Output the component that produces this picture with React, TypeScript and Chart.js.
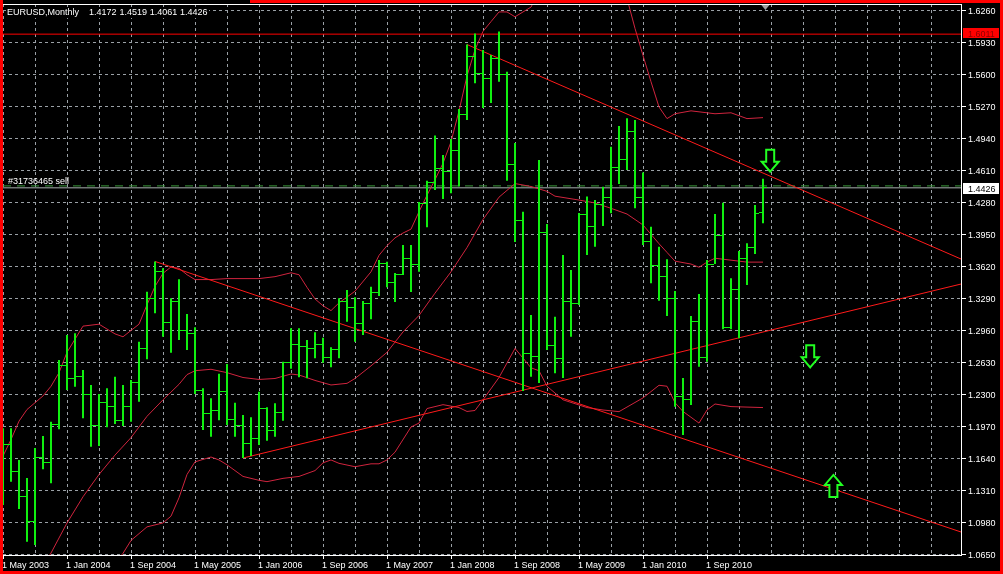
import React, { useEffect, useRef } from "react";
import { Chart, registerables } from "chart.js";

Chart.register(...registerables);

// ---------- DATA ----------
// Monthly bars, index 0 = May 2003 ... index 95 = Apr 2011
const OPEN = [
  1.1180, 1.1780, 1.1500, 1.1240, 1.0985, 1.1650, 1.1590, 1.1990,
  1.2590, 1.2460, 1.2480, 1.2300, 1.1980, 1.2210, 1.2170, 1.2030, 1.2170, 1.2420, 1.2770, 1.3280,
  1.3560, 1.3040, 1.3250, 1.2960, 1.2920, 1.2340, 1.2100, 1.2130, 1.2330, 1.2040, 1.1980, 1.1790,
  1.1840, 1.2150, 1.1920, 1.2110, 1.2630, 1.2810, 1.2790, 1.2770, 1.2810, 1.2680, 1.2760, 1.3250,
  1.3190, 1.3030, 1.3230, 1.3350, 1.3650, 1.3450, 1.3530, 1.3700, 1.3640, 1.4260, 1.4480, 1.4630,
  1.4590, 1.4810, 1.5180, 1.5785, 1.5610, 1.5550, 1.5760, 1.5600, 1.4670, 1.4090, 1.2720, 1.2690,
  1.3970, 1.2800, 1.2670, 1.3250, 1.3230, 1.4150, 1.4030, 1.4250, 1.4330, 1.4640, 1.4720, 1.5010,
  1.4330, 1.3870, 1.3630, 1.3510, 1.3290, 1.2270, 1.2240, 1.3050, 1.2680, 1.3640, 1.3930, 1.2990,
  1.3380, 1.3700, 1.3810, 1.4172,
];
const HIGH = [
  1.1946, 1.1946, 1.1620, 1.1434, 1.1743, 1.1867, 1.2014, 1.2650,
  1.2908, 1.2926, 1.2548, 1.2393, 1.2300, 1.2359, 1.2479, 1.2393, 1.2444, 1.2839, 1.3355, 1.3667,
  1.3596, 1.3287, 1.3483, 1.3125, 1.2988, 1.2359, 1.2256, 1.2510, 1.2609, 1.2210, 1.2083, 1.2059,
  1.2324, 1.2163, 1.2204, 1.2633, 1.2977, 1.2977, 1.2857, 1.2936, 1.2881, 1.2782, 1.3287, 1.3372,
  1.3297, 1.3259, 1.3406, 1.3682, 1.3664, 1.3548, 1.3837, 1.3837, 1.4280, 1.4500, 1.4965, 1.4765,
  1.4930, 1.5240, 1.5904, 1.6018, 1.5848, 1.5796, 1.6038, 1.5624, 1.4889, 1.4180, 1.3115, 1.4713,
  1.4053, 1.3097, 1.3733, 1.3579, 1.4166, 1.4336, 1.4301, 1.4438, 1.4850, 1.5064, 1.5143, 1.5126,
  1.4583, 1.4026, 1.3819, 1.3689, 1.3362, 1.2465, 1.3104, 1.3331, 1.3682, 1.4156, 1.4273, 1.3493,
  1.3775, 1.3854, 1.4249, 1.4519,
];
const LOW = [
  1.1155, 1.1396, 1.1114, 1.0777, 1.0743, 1.1523, 1.1379, 1.1936,
  1.2341, 1.2375, 1.2049, 1.1756, 1.1764, 1.1957, 1.1991, 1.1970, 1.2014, 1.2221, 1.2658, 1.3132,
  1.2891, 1.2726, 1.2857, 1.2754, 1.2300, 1.1930, 1.1860, 1.2030, 1.1980, 1.1860, 1.1640, 1.1660,
  1.1774, 1.1818, 1.1860, 1.2025, 1.2560, 1.2472, 1.2462, 1.2668, 1.2623, 1.2575, 1.2668, 1.3046,
  1.2839, 1.2908, 1.3070, 1.3311, 1.3400, 1.3249, 1.3527, 1.3352, 1.3560, 1.4020, 1.4404, 1.4310,
  1.4370, 1.4440, 1.5125, 1.5504, 1.5250, 1.5300, 1.5520, 1.4500, 1.3867, 1.2330, 1.2478, 1.2413,
  1.2754, 1.2513, 1.2465, 1.2891, 1.3218, 1.3734, 1.3819, 1.4032, 1.4163, 1.4466, 1.4610, 1.4215,
  1.3837, 1.3442, 1.3262, 1.3104, 1.2169, 1.1877, 1.2187, 1.2582, 1.2633, 1.3640, 1.2967, 1.2967,
  1.2874, 1.3424, 1.3744, 1.4061,
];
const CLOSE = [
  1.1780, 1.1500, 1.1240, 1.0985, 1.1650, 1.1590, 1.1990, 1.2590,
  1.2460, 1.2480, 1.2300, 1.1980, 1.2210, 1.2170, 1.2030, 1.2170, 1.2420, 1.2770, 1.3280, 1.3560,
  1.3040, 1.3250, 1.2960, 1.2920, 1.2340, 1.2100, 1.2130, 1.2330, 1.2040, 1.1980, 1.1790, 1.1840,
  1.2150, 1.1920, 1.2110, 1.2630, 1.2810, 1.2790, 1.2770, 1.2810, 1.2680, 1.2760, 1.3250, 1.3190,
  1.3030, 1.3230, 1.3350, 1.3650, 1.3450, 1.3530, 1.3700, 1.3640, 1.4260, 1.4480, 1.4630, 1.4590,
  1.4810, 1.5180, 1.5785, 1.5610, 1.5550, 1.5760, 1.5600, 1.4670, 1.4090, 1.2720, 1.2690, 1.3970,
  1.2800, 1.2670, 1.3250, 1.3230, 1.4150, 1.4030, 1.4250, 1.4330, 1.4640, 1.4720, 1.5010, 1.4330,
  1.3870, 1.3630, 1.3510, 1.3290, 1.2270, 1.2240, 1.3050, 1.2680, 1.3640, 1.3930, 1.2990, 1.3380,
  1.3700, 1.3810, 1.4160, 1.4426,
];

// Bollinger-style bands (bar index -> price)
const UB_X = [0, 1, 2, 3, 4, 5, 6, 7, 8, 10, 12, 14, 15, 17, 18, 19, 20, 21, 22, 23, 24, 26, 28, 30, 32, 34, 36, 37, 38, 39, 40, 41, 42, 44, 46, 47, 48, 49, 50, 51, 52, 53, 54, 55, 56, 57, 58, 59, 60, 61, 62, 63, 64, 65, 66, 67, 70, 74, 78, 79, 80, 81, 82, 83, 84, 86, 89, 91, 92, 93, 95];
const UB_Y = [1.166, 1.183, 1.202, 1.214, 1.221, 1.228, 1.238, 1.252, 1.273, 1.300, 1.302, 1.292, 1.289, 1.302, 1.322, 1.341, 1.3545, 1.361, 1.3596, 1.353, 1.348, 1.348, 1.349, 1.349, 1.349, 1.351, 1.355, 1.353, 1.340, 1.328, 1.321, 1.316, 1.324, 1.336, 1.356, 1.373, 1.383, 1.391, 1.396, 1.400, 1.418, 1.435, 1.451, 1.468, 1.490, 1.522, 1.558, 1.585, 1.604, 1.614, 1.624, 1.624, 1.619, 1.624, 1.629, 1.645, 1.700, 1.720, 1.638, 1.607, 1.579, 1.552, 1.526, 1.514, 1.519, 1.522, 1.519, 1.520, 1.517, 1.514, 1.515];
const MB_X = [4, 6, 8, 10, 12, 14, 16, 18, 20, 22, 23, 24, 26, 28, 30, 32, 34, 36, 37, 39, 41, 43, 44, 46, 48, 50, 52, 54, 56, 58, 60, 62, 64, 66, 68, 69, 72, 74, 76, 78, 80, 82, 83, 84, 86, 87, 88, 89, 91, 93, 95];
const MB_Y = [1.040, 1.066, 1.097, 1.124, 1.147, 1.167, 1.185, 1.207, 1.224, 1.240, 1.250, 1.254, 1.2555, 1.252, 1.247, 1.245, 1.246, 1.2506, 1.2496, 1.244, 1.2393, 1.241, 1.246, 1.259, 1.273, 1.294, 1.311, 1.334, 1.356, 1.381, 1.410, 1.433, 1.447, 1.444, 1.439, 1.434, 1.430, 1.427, 1.4215, 1.4156, 1.4043, 1.385, 1.376, 1.367, 1.364, 1.3607, 1.366, 1.370, 1.368, 1.366, 1.366];
const LB_X = [13, 15, 16, 18, 20, 21, 22, 23, 24, 26, 27, 28, 30, 32, 33, 35, 37, 39, 40, 41, 42, 44, 46, 47, 48, 49, 51, 52, 53, 55, 57, 58, 59, 60, 62, 64, 65, 66, 67, 68, 70, 73, 75, 77, 80, 82, 83, 84, 85, 87, 88, 89, 91, 95];
const LB_Y = [1.045, 1.0657, 1.079, 1.093, 1.097, 1.104, 1.123, 1.147, 1.160, 1.165, 1.162, 1.157, 1.145, 1.141, 1.1396, 1.143, 1.145, 1.151, 1.159, 1.162, 1.1585, 1.155, 1.158, 1.158, 1.162, 1.170, 1.196, 1.200, 1.215, 1.219, 1.216, 1.212, 1.213, 1.224, 1.247, 1.277, 1.267, 1.257, 1.254, 1.238, 1.224, 1.216, 1.2135, 1.2118, 1.226, 1.239, 1.238, 1.221, 1.212, 1.200, 1.2135, 1.2197, 1.217, 1.216];

// Trend lines: [x1, x2], [y1, y2]
const TL1_X = [19, 119.75];
const TL1_Y = [1.3667, 1.0877];
const TL2_X = [30, 119.75];
const TL2_Y = [1.1640, 1.3434];
const TL3_X = [58, 119.75];
const TL3_Y = [1.5904, 1.3692];

const HLINE_PRICE = 1.6011;
const ORDER_PRICE = 1.4446;
const BID_PRICE = 1.4426;
const ORDER_LABEL = "#31736465 sell";
const HEADER_PARTS = ["EURUSD,Monthly", "1.4172", "1.4519", "1.4061", "1.4426"];
const HEADER_X = [7, 89, 119.5, 149.8, 180.1];

// Arrows: bar index, tip price, direction
const ARROW_X = [95.9, 100.9, 103.8];
const ARROW_Y = [1.4593, 1.2575, 1.1465];
const ARROW_DIR = ["down", "down", "up"];

const Y_TICKS = [1.0650, 1.0980, 1.1310, 1.1640, 1.1970, 1.2300, 1.2630, 1.2960, 1.3290, 1.3620, 1.3950, 1.4280, 1.4610, 1.4940, 1.5270, 1.5600, 1.5930, 1.6260];
const X_LABELS = ["1 May 2003", "1 Jan 2004", "1 Sep 2004", "1 May 2005", "1 Jan 2006", "1 Sep 2006", "1 May 2007", "1 Jan 2008", "1 Sep 2008", "1 May 2009", "1 Jan 2010", "1 Sep 2010"];
const X_LABEL_IDX = [0, 8, 16, 24, 32, 40, 48, 56, 64, 72, 80, 88];

// ---------- VIEW ----------
const X_MIN = 0;
const X_MAX = 119.75;
const Y_MIN = 1.063969;
const Y_MAX = 1.632188;
const GRID_STEP = 4;

const GREEN = "#10f010";
const BB_COLOR = "#d0243e";
const TL_COLOR = "#ff1a1a";
const GRID_COLOR = "#9aa0a6";
const FONT = "9px 'Liberation Sans', Arial, sans-serif";

const toPts = (xs: number[], ys: number[]) => xs.map((x, k) => ({ x, y: ys[k] }));

function drawArrow(ctx: CanvasRenderingContext2D, cx: number, ty: number, dir: string) {
  const s = dir === "down" ? -1 : 1;
  const hb = ty + s * 10;
  const end = ty + s * 22;
  ctx.beginPath();
  ctx.moveTo(cx, ty);
  ctx.lineTo(cx + 8.5, hb);
  ctx.lineTo(cx + 4, hb);
  ctx.lineTo(cx + 4, end);
  ctx.lineTo(cx - 4, end);
  ctx.lineTo(cx - 4, hb);
  ctx.lineTo(cx - 8.5, hb);
  ctx.closePath();
  ctx.fillStyle = "#000";
  ctx.fill();
  ctx.lineWidth = 2;
  ctx.strokeStyle = "#22ff22";
  ctx.stroke();
}

const mt4Plugin = {
  id: "mt4",
  beforeDraw(chart: any) {
    const { ctx, width, height } = chart;
    ctx.save();
    ctx.fillStyle = "#000";
    ctx.fillRect(0, 0, width, height);
    ctx.restore();
  },
  afterDatasetsDraw(chart: any) {
    const { ctx, chartArea: a } = chart;
    const x = chart.scales.x;
    const y = chart.scales.y;
    ctx.save();
    ctx.beginPath();
    ctx.rect(a.left, a.top, a.right - a.left, a.bottom - a.top);
    ctx.clip();
    ctx.fillStyle = GREEN;
    for (let i = 0; i < OPEN.length; i++) {
      const col = Math.round(x.getPixelForValue(i));
      const yo = Math.floor(y.getPixelForValue(OPEN[i]));
      const yc = Math.floor(y.getPixelForValue(CLOSE[i]));
      ctx.fillRect(col - 4, yo, 3, 1);
      ctx.fillRect(col + 1, yc, 3, 1);
    }
    for (let k = 0; k < ARROW_X.length; k++) {
      drawArrow(ctx, x.getPixelForValue(ARROW_X[k]), y.getPixelForValue(ARROW_Y[k]), ARROW_DIR[k]);
    }
    ctx.restore();
  },
  afterDraw(chart: any) {
    const { ctx, chartArea: a, width, height } = chart;
    const x = chart.scales.x;
    const y = chart.scales.y;
    ctx.save();
    ctx.font = FONT;
    ctx.textBaseline = "alphabetic";
    ctx.textAlign = "left";

    ctx.fillStyle = "#ffffff";
    ctx.fillRect(a.left, a.top, a.right - a.left, 1);

    for (const v of Y_TICKS) {
      const py = Math.floor(y.getPixelForValue(v));
      ctx.fillStyle = "#ffffff";
      ctx.fillRect(Math.round(a.right) + 1, py, 4, 1);
      ctx.fillText(v.toFixed(4), a.right + 7, py + 4);
    }
    for (let k = 0; k < X_LABELS.length; k++) {
      const px = x.getPixelForValue(X_LABEL_IDX[k]);
      ctx.fillStyle = "#ffffff";
      ctx.fillRect(Math.round(px), Math.round(a.bottom) + 1, 1, 3);
      ctx.fillText(X_LABELS[k], Math.round(px) - 1, a.bottom + 13);
    }

    const hy = y.getPixelForValue(HLINE_PRICE);
    ctx.fillStyle = "#ff0000";
    ctx.fillRect(a.right + 2, Math.round(hy) - 6, 36, 10);
    ctx.fillStyle = "#8b0000";
    ctx.fillText(HLINE_PRICE.toFixed(4), a.right + 7, Math.round(hy) + 3);

    const by = y.getPixelForValue(BID_PRICE);
    ctx.fillStyle = "#ffffff";
    ctx.fillRect(a.right + 2, Math.round(by) - 5, 36, 11);
    ctx.fillStyle = "#000000";
    ctx.fillText(BID_PRICE.toFixed(4), a.right + 7, Math.round(by) + 4);

    ctx.fillStyle = "#000000";
    ctx.fillRect(6, 7, 203, 11);
    ctx.fillStyle = "#ffffff";
    for (let k = 0; k < HEADER_PARTS.length; k++) ctx.fillText(HEADER_PARTS[k], HEADER_X[k], 15);
    const oy = y.getPixelForValue(ORDER_PRICE);
    ctx.fillText(ORDER_LABEL, 8, Math.round(oy) - 2);

    const sx = x.getPixelForValue(95.3);
    ctx.fillStyle = "#a0a0a0";
    ctx.beginPath();
    ctx.moveTo(sx - 4, a.top + 1);
    ctx.lineTo(sx + 4, a.top + 1);
    ctx.lineTo(sx, a.top + 6);
    ctx.closePath();
    ctx.fill();

    ctx.fillStyle = "#ff0000";
    ctx.fillRect(0, 0, 3, height);
    ctx.fillRect(width - 3, 0, 3, height);
    ctx.fillRect(0, height - 3, width, 3);
    ctx.fillRect(250, 0, width - 250, 3);
    ctx.restore();
  },
};

export default function App() {
  const ref = useRef<HTMLCanvasElement | null>(null);
  useEffect(() => {
    document.body.style.margin = "0";
    document.body.style.background = "#000";
    const canvas = ref.current;
    if (!canvas) return;
    const line = (data: any[], color: string, order: number, extra: any = {}) => ({
      type: "line",
      data,
      borderColor: color,
      borderWidth: 1,
      pointRadius: 0,
      tension: 0,
      fill: false,
      order,
      ...extra,
    });
    const chart = new Chart(canvas, {
      type: "line",
      data: {
        datasets: [
          {
            type: "bar",
            data: HIGH.map((h, i) => ({ x: i, y: [LOW[i], h] })),
            backgroundColor: GREEN,
            borderColor: GREEN,
            borderWidth: 0,
            barThickness: 2,
            inflateAmount: 0,
            order: 0,
          } as any,
          line(toPts(UB_X, UB_Y), BB_COLOR, 3),
          line(toPts(MB_X, MB_Y), BB_COLOR, 3),
          line(toPts(LB_X, LB_Y), BB_COLOR, 3),
          line(toPts(TL1_X, TL1_Y), TL_COLOR, 2),
          line(toPts(TL2_X, TL2_Y), TL_COLOR, 2),
          line(toPts(TL3_X, TL3_Y), TL_COLOR, 2),
          line([{ x: X_MIN, y: HLINE_PRICE }, { x: X_MAX, y: HLINE_PRICE }], "#ff0000", 2),
          line([{ x: X_MIN, y: ORDER_PRICE }, { x: X_MAX, y: ORDER_PRICE }], "#3a9a3a", 4, { borderDash: [8, 6] }),
          line([{ x: X_MIN, y: BID_PRICE }, { x: X_MAX, y: BID_PRICE }], "#a8b0b0", 4),
        ] as any,
      },
      options: {
        animation: false,
        responsive: false,
        devicePixelRatio: 1,
        events: [],
        layout: { padding: { left: 3, top: 4, right: 0, bottom: 0 } },
        plugins: { legend: { display: false }, tooltip: { enabled: false } },
        scales: {
          x: {
            type: "linear",
            position: "bottom",
            min: X_MIN,
            max: X_MAX,
            offset: false,
            afterBuildTicks: (s: any) => {
              const t = [];
              for (let v = 0; v <= X_MAX; v += GRID_STEP) t.push({ value: v });
              s.ticks = t;
            },
            afterFit: (s: any) => {
              s.height = 19;
            },
            ticks: { display: false },
            grid: { color: GRID_COLOR, lineWidth: 1, drawTicks: false, offset: false },
            border: { display: true, color: "#ffffff", width: 1, dash: [3, 3] },
          },
          y: {
            type: "linear",
            position: "right",
            min: Y_MIN,
            max: Y_MAX,
            beginAtZero: false,
            afterBuildTicks: (s: any) => {
              s.ticks = Y_TICKS.map((v) => ({ value: v }));
            },
            afterFit: (s: any) => {
              s.width = 42;
            },
            ticks: { display: false },
            grid: { color: GRID_COLOR, lineWidth: 1, drawTicks: false },
            border: { display: true, color: "#ffffff", width: 1, dash: [3, 3] },
          },
        },
      } as any,
      plugins: [mt4Plugin],
    });
    return () => chart.destroy();
  }, []);
  return <canvas ref={ref} width={1003} height={574} style={{ display: "block", width: 1003, height: 574 }} />;
}
